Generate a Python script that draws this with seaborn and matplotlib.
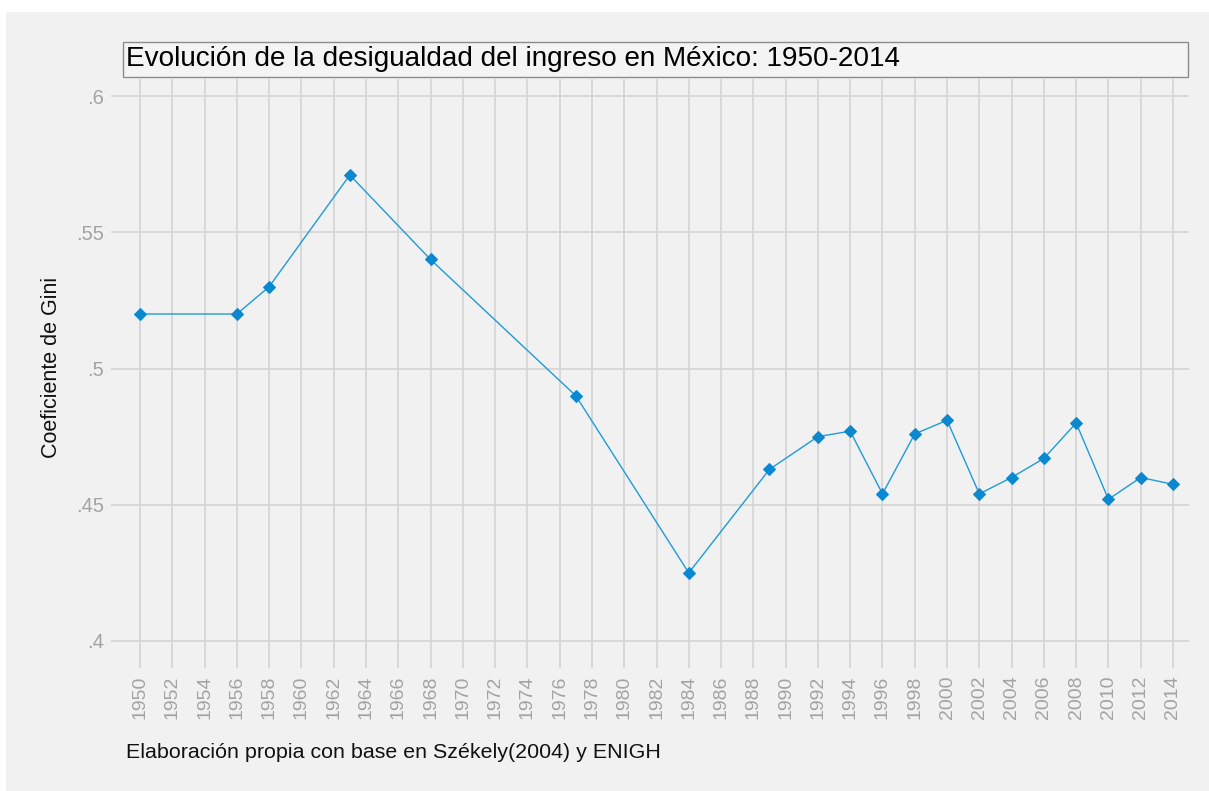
import matplotlib
matplotlib.use('Agg')
import matplotlib.pyplot as plt
from matplotlib.patches import Rectangle
import seaborn as sns
import pandas as pd

# Gini coefficient, Mexico
years = [1950, 1956, 1958, 1963, 1968, 1977, 1984, 1989, 1992, 1994, 1996,
         1998, 2000, 2002, 2004, 2006, 2008, 2010, 2012, 2014]
gini = [0.520, 0.520, 0.530, 0.571, 0.540, 0.490, 0.425, 0.463, 0.475, 0.477,
        0.454, 0.476, 0.481, 0.454, 0.460, 0.467, 0.480, 0.452, 0.460, 0.4575]
year_ticks = list(range(1950, 2015, 2))
gini_ticks = [0.4, 0.45, 0.5, 0.55, 0.6]
gini_labels = ['.4', '.45', '.5', '.55', '.6']

df = pd.DataFrame({'year': years, 'gini': gini})

sns.set_theme(style='white')
plt.rcParams['font.family'] = ['Liberation Sans', 'DejaVu Sans']

bg = '#f1f1f1'
grid_c = '#d4d4d4'
tick_c = '#a3a3a3'
W, H = 1209, 791

fig = plt.figure(figsize=(12.09, 7.91), dpi=100, facecolor='white')
# grey panel (white strip at top and left)
fig.patches.append(Rectangle((6 / W, 0), 1, 1 - 12 / H, transform=fig.transFigure,
                             facecolor=bg, edgecolor='none', zorder=-10))

ax = fig.add_axes([123 / W, (H - 655) / H, 1066 / W, 576 / H])
ax.set_facecolor(bg)

sns.lineplot(data=df, x='year', y='gini', ax=ax, color='#1f9bd8', linewidth=1.0,
             marker='D', markersize=5.8, markerfacecolor='#0a88d0',
             markeredgecolor='#0a88d0', zorder=3)

ax.set_xlim(1950 - 17 / 16.14, 2014 + 16 / 16.14)
ax.set_ylim(0.4 - 14 / 2725, 0.6 + 17 / 2725)
ax.set_xticks(year_ticks)
ax.set_xticklabels([str(y) for y in year_ticks], rotation=90)
ax.set_yticks(gini_ticks)
ax.set_yticklabels(gini_labels)
ax.grid(True, color=grid_c, linewidth=1.2)
ax.set_axisbelow(True)
for s in ax.spines.values():
    s.set_visible(False)
ax.tick_params(axis='x', length=9.5, width=1.2, color=grid_c, labelcolor=tick_c,
               labelsize=14, pad=5.5, bottom=True)
ax.tick_params(axis='y', length=9, width=1.2, color=grid_c, labelcolor=tick_c,
               labelsize=14.5, pad=4.5, left=True)
ax.set_xlabel('')
ax.set_ylabel('Coeficiente de Gini', fontsize=15.5, color='#111111', labelpad=10.5)

# title box
fig.patches.append(Rectangle((123 / W, (H - 77) / H), 1065 / W, 35 / H,
                             transform=fig.transFigure, facecolor='#f4f4f4',
                             edgecolor='#8c8c8c', linewidth=1.0, zorder=1))
fig.text(126 / W, (H - 59) / H, 'Evolución de la desigualdad del ingreso en México: 1950-2014',
         fontsize=20.05, color='black', ha='left', va='center')

fig.text(126 / W, (H - 752) / H, 'Elaboración propia con base en Székely(2004) y ENIGH',
         fontsize=15.4, color='#111111', ha='left', va='center')

fig.savefig('out.png', dpi=100, facecolor='white')
